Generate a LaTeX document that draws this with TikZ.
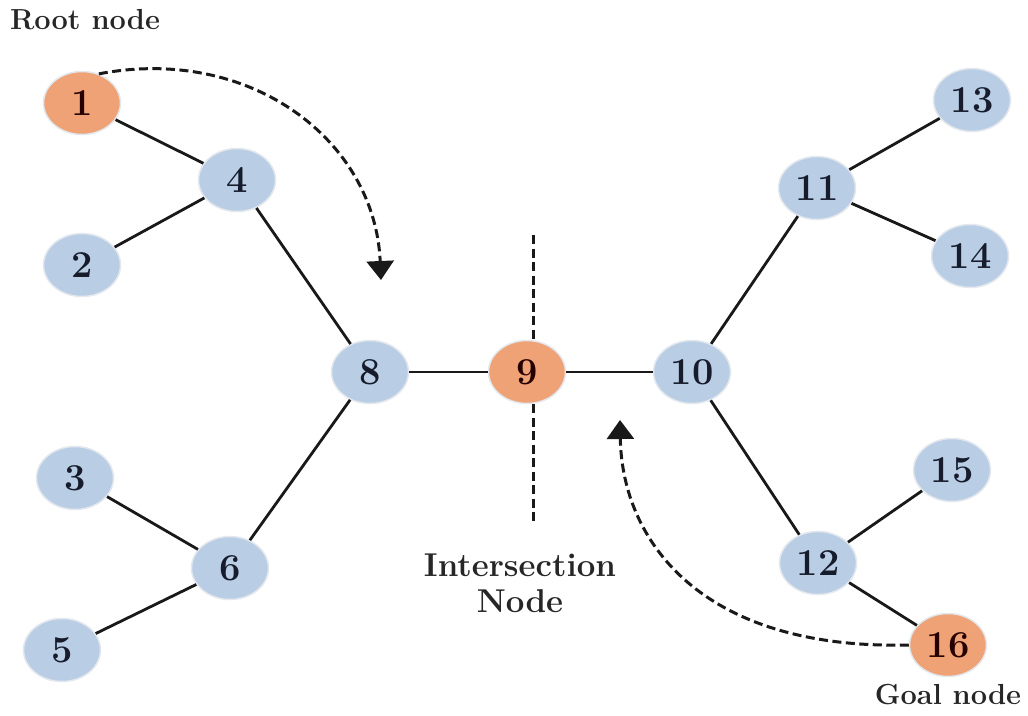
\documentclass[tikz,border=0pt]{standalone}
\usetikzlibrary{shapes.geometric,arrows.meta}
\definecolor{nblue}{HTML}{B9CDE5}
\definecolor{norange}{HTML}{EEA276}
\definecolor{ntext}{HTML}{161C2C}
\definecolor{nrim}{HTML}{E3E8EE}
\begin{document}
\begin{tikzpicture}[x=1pt,y=-1pt,
  gnode/.style={ellipse, minimum width=77pt, minimum height=63pt, inner sep=0pt,
    fill=nblue, draw=nrim, line width=1.5pt, text=ntext,
    font=\fontsize{38}{38}\selectfont\bfseries},
  onode/.style={gnode, fill=norange, text=black!85!red},
  edge/.style={line width=2.8pt, black!90},
  dashline/.style={line width=3pt, black!90, dash pattern=on 9pt off 4.5pt},
  path/.style={line width=3pt, black!90, dash pattern=on 9pt off 4.5pt,
    -{Triangle[length=19pt,width=27pt]}},
  lbl/.style={font=\fontsize{29}{33}\selectfont\bfseries, text=black!85, align=center}]
\useasboundingbox (0,0) rectangle (1028,715);
\fill[white] (0,0) rectangle (1028,715);

\node[onode] (n1) at (82,103) {1};
\node[gnode] (n4) at (237,180) {4};
\node[gnode] (n2) at (82,265) {2};
\node[gnode] (n8) at (370,372) {8};
\node[onode] (n9) at (527,372) {9};
\node[gnode] (n10) at (692,372) {10};
\node[gnode] (n3) at (75,478) {3};
\node[gnode] (n6) at (230,568) {6};
\node[gnode] (n5) at (62,650) {5};
\node[gnode] (n11) at (817,188) {11};
\node[gnode] (n13) at (972,100) {13};
\node[gnode] (n14) at (970,256) {14};
\node[gnode] (n12) at (818,563) {12};
\node[gnode] (n15) at (952,470) {15};
\node[onode] (n16) at (948,645) {16};

\node[lbl] (root) at (85,20) {Root node};
\node[lbl, font=\fontsize{33}{38}\selectfont\bfseries] (inter) at (520,583) {Intersection\\[-2pt]Node};
\node[lbl] (goal) at (948,695) {Goal node};

\draw[edge] (n1) -- (n4);
\draw[edge] (n4) -- (n2);
\draw[edge] (n4) -- (n8);
\draw[edge] (n8) -- (n9);
\draw[edge] (n9) -- (n10);
\draw[edge] (n8) -- (n6);
\draw[edge] (n6) -- (n3);
\draw[edge] (n6) -- (n5);
\draw[edge] (n10) -- (n11);
\draw[edge] (n11) -- (n13);
\draw[edge] (n11) -- (n14);
\draw[edge] (n10) -- (n12);
\draw[edge] (n12) -- (n15);
\draw[edge] (n12) -- (n16);

\coordinate (vtop) at (533,235);
\coordinate (vbot) at (533,524);
\draw[dashline] (vtop) -- (n9.north -| vtop);
\draw[dashline] (n9.south -| vbot) -- (vbot);

\coordinate (t1) at (381,280);
\coordinate (t2) at (620,420);
\draw[path] (n1.60) .. controls (250,45) and (375,140) .. (t1);
\draw[path] (n16.west) .. controls (700,650) and (622,540) .. (t2);
\end{tikzpicture}
\end{document}
